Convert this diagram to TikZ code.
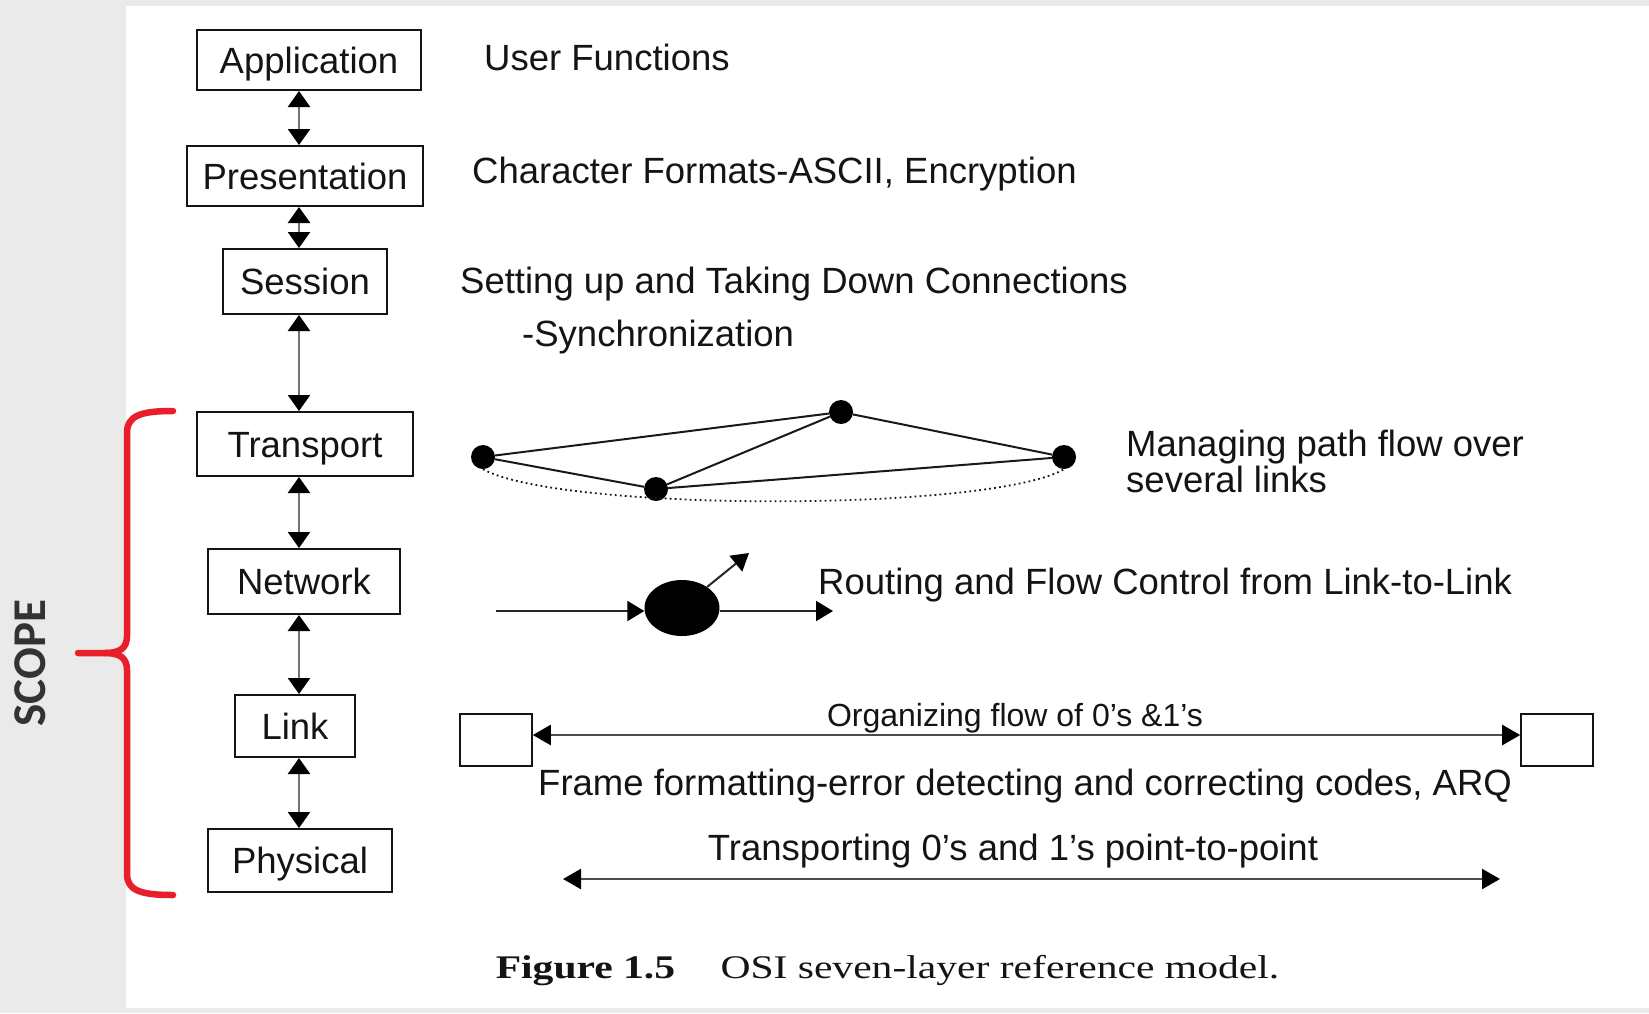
\documentclass[tikz,border=0pt]{standalone}
\usepackage{fontspec}
\setmainfont{Liberation Sans}
\newfontfamily\capfont{Liberation Serif}
\newfontfamily\scopefont{Carlito}
\usetikzlibrary{arrows.meta,shapes.geometric}
\definecolor{bgg}{RGB}{234,234,234}
\definecolor{bracered}{RGB}{232,30,42}
\definecolor{ink}{RGB}{20,20,20}
\begin{document}
\begin{tikzpicture}[x=1pt,y=-1pt,
  layer/.style={draw=ink, line width=2pt, fill=white, text=ink, inner sep=0pt,
    text height=26pt, text depth=0pt, font=\fontsize{36.5}{40}\selectfont},
  lyarrow/.style={draw=black!55, line width=2.5pt,
    {Triangle[width=22pt,length=16pt,color=black]}-{Triangle[width=22pt,length=16pt,color=black]}},
  desc/.style={anchor=base west, inner sep=0pt, text=ink, font=\fontsize{36.5}{36}\selectfont},
  dot/.style={circle, fill=black, minimum size=24pt, inner sep=0pt},
  gline/.style={draw=black!90, line width=2pt},
  netarrow/.style={draw=black!85, line width=2pt, -{Triangle[width=20pt,length=17pt,color=black]}},
  smallbox/.style={draw=ink, line width=1.6pt, fill=white, minimum width=72pt, minimum height=52pt, inner sep=0pt},
  lkarrow/.style={draw=black!70, line width=2.5pt,
    {Triangle[width=20pt,length=18pt,color=black]}-{Triangle[width=20pt,length=18pt,color=black]}},
  brace/.style={draw=bracered, line width=6.5pt, line cap=round, line join=round}
]
\useasboundingbox (0,0) rectangle (1649,1013);
% background
\fill[bgg] (0,0) rectangle (1649,1013);
\fill[white] (126,6) rectangle (1649,1008);

% layers
\node[layer, minimum width=224pt, minimum height=60pt] (app)  at (309,60)    {Application};
\node[layer, minimum width=236pt, minimum height=60pt] (pres) at (305,176)   {Presentation};
\node[layer, minimum width=164pt, minimum height=65pt] (sess) at (305,281.5) {Session};
\node[layer, minimum width=216pt, minimum height=64pt] (trans) at (305,444)  {Transport};
\node[layer, minimum width=192pt, minimum height=65pt] (net)  at (304,581.5) {Network};
\node[layer, minimum width=120pt, minimum height=62pt] (link) at (295,726)   {Link};
\node[layer, minimum width=184pt, minimum height=63pt] (phys) at (300,860.5) {Physical};

\coordinate (ax) at (299,0);
\draw[lyarrow] (app.south -| ax) -- (pres.north -| ax);
\draw[lyarrow] (pres.south -| ax) -- (sess.north -| ax);
\draw[lyarrow] (sess.south -| ax) -- (trans.north -| ax);
\draw[lyarrow] (trans.south -| ax) -- (net.north -| ax);
\draw[lyarrow] (net.south -| ax) -- (link.north -| ax);
\draw[lyarrow] (link.south -| ax) -- (phys.north -| ax);

% descriptions
\node[desc] (t1) at (484,70)  {User Functions};
\node[desc] (t2) at (472,183) {Character Formats-ASCII, Encryption};
\node[desc] (t3) at (460,293) {Setting up and Taking Down Connections};
\node[desc] (t4) at (522,346) {-Synchronization};
\node[desc] (t5) at (1126,456) {Managing path flow over};
\node[desc] (t6) at (1126,492) {several links};
\node[desc] (t7) at (818,594) {Routing and Flow Control from Link-to-Link};

% transport graph
\node[dot] (gA) at (483,457) {};
\node[dot] (gB) at (841,412) {};
\node[dot] (gC) at (656,489) {};
\node[dot] (gD) at (1064,457) {};
\draw[gline] (gA) -- (gB);
\draw[gline] (gA) -- (gC);
\draw[gline] (gC) -- (gB);
\draw[gline] (gC) -- (gD);
\draw[gline] (gB) -- (gD);
\draw[black!90, line width=1.8pt, dash pattern=on 1.8pt off 3.2pt]
  (gA.south) .. controls (560,512) and (990,512) .. (gD.south);

% network router
\node[ellipse, fill=black, minimum width=75pt, minimum height=56pt, inner sep=0pt] (rt) at (682,608) {};
\coordinate (nin) at (496,611);
\coordinate (nout) at (833,611);
\coordinate (ndiag) at (749,553);
\draw[netarrow] (nin) -- (nin -| rt.west);
\draw[netarrow] (nout -| rt.east) -- (nout);
\draw[netarrow] (rt.40) -- (ndiag);

% link row
\node[smallbox] (lb1) at (496,740) {};
\node[smallbox] (lb2) at (1557,740) {};
\draw[lkarrow] ([yshift=5pt]lb1.east) -- ([yshift=5pt]lb2.west);
\node[anchor=base, inner sep=0pt, text=ink, font=\fontsize{32}{34}\selectfont] (org) at (1015,726) {Organizing flow of 0’s \&1’s};
\node[desc] (frame) at (538,795) {Frame formatting-error detecting and correcting codes, ARQ};

% physical row
\node[anchor=base, inner sep=0pt, text=ink, font=\fontsize{36.5}{36}\selectfont] (tp) at (1013,860) {Transporting 0’s and 1’s point-to-point};
\coordinate (pl) at (563,879);
\coordinate (pr) at (1500,879);
\draw[lkarrow] (pl) -- (pr);

% caption
\node[anchor=base, inner sep=0pt, text=ink] (cap) at (887.5,978)
  {\scalebox{1.26}[1]{\capfont\fontsize{33}{36}\selectfont\textbf{Figure 1.5}\hspace{36pt}OSI seven-layer reference model.}};

% scope brace
\draw[brace] (173,411) .. controls (142,411) and (127,415) .. (127,433) -- (127,636)
  .. controls (127,648) and (120,653) .. (105,653) -- (78,653);
\draw[brace] (105,653) .. controls (120,653) and (127,658) .. (127,670) -- (127,874)
  .. controls (127,891) and (142,895) .. (173,895);
\node[rotate=90, inner sep=0pt, text=black!80, font=\scopefont\bfseries\fontsize{47}{50}\selectfont] (scope) at (30,663) {SCOPE};
\end{tikzpicture}
\end{document}
